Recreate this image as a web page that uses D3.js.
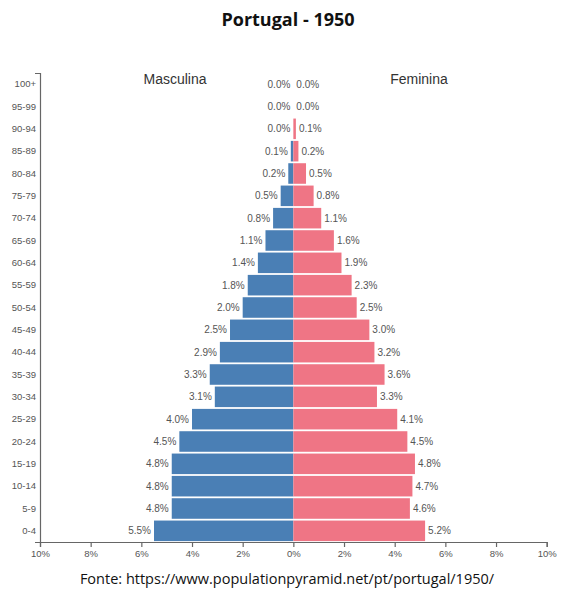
<!DOCTYPE html>
<html><head><meta charset="utf-8">
<script src="https://cdn.jsdelivr.net/npm/d3@7"></script>
<style>body{margin:0;background:#fff}svg{display:block}</style>
</head><body>
<svg id="c" width="564" height="589"></svg>
<script>
const ageGroups = ["0-4","5-9","10-14","15-19","20-24","25-29","30-34","35-39","40-44","45-49","50-54","55-59","60-64","65-69","70-74","75-79","80-84","85-89","90-94","95-99","100+"];
const male   = [5.5,4.8,4.8,4.8,4.5,4.0,3.1,3.3,2.9,2.5,2.0,1.8,1.4,1.1,0.8,0.5,0.2,0.1,0.0,0.0,0.0];
const female = [5.2,4.6,4.7,4.8,4.5,4.1,3.3,3.6,3.2,3.0,2.5,2.3,1.9,1.6,1.1,0.8,0.5,0.2,0.1,0.0,0.0];
const xTicks = [-10,-8,-6,-4,-2,0,2,4,6,8,10];
const title = "Portugal - 1950";
const source = "Fonte: https://www.populationpyramid.net/pt/portugal/1950/";

const svg = d3.select("#c");
const x = d3.scaleLinear().domain([-10,10]).range([40,546.7]);
const y = d3.scaleBand().domain(ageGroups).range([542,73]).paddingInner(0.08).paddingOuter(0.04);
const blue = "#4a7fb5", pink = "#ef7585", txt = "#555";

svg.append("text").attr("x",288).attr("y",26).attr("text-anchor","middle")
  .attr("font-family","Open Sans, sans-serif").attr("font-weight","bold").attr("font-size",18).attr("fill","#111").text(title);

const idx = d3.range(ageGroups.length);
svg.append("g").selectAll("rect").data(idx).join("rect")
  .attr("x", i => x(-male[i])).attr("width", i => x(0)-x(-male[i]))
  .attr("y", i => y(ageGroups[i])).attr("height", y.bandwidth()).attr("fill", blue);
svg.append("g").selectAll("rect").data(idx).join("rect")
  .attr("x", x(0)).attr("width", i => x(female[i])-x(0))
  .attr("y", i => y(ageGroups[i])).attr("height", y.bandwidth()).attr("fill", pink);

svg.append("g").selectAll("text").data(idx).join("text")
  .attr("x", i => x(-male[i]) - 3).attr("y", i => y(ageGroups[i]) + y.bandwidth()/2 + 3.5)
  .attr("text-anchor","end").attr("font-family","Arial, Liberation Sans, sans-serif").attr("font-size",10).attr("fill",txt)
  .text(i => male[i].toFixed(1)+"%");
svg.append("g").selectAll("text").data(idx).join("text")
  .attr("x", i => x(female[i]) + 3).attr("y", i => y(ageGroups[i]) + y.bandwidth()/2 + 3.5)
  .attr("text-anchor","start").attr("font-family","Arial, Liberation Sans, sans-serif").attr("font-size",10).attr("fill",txt)
  .text(i => female[i].toFixed(1)+"%");

const xa = svg.append("g").attr("transform","translate(0,542)")
  .call(d3.axisBottom(x).tickValues(xTicks).tickSize(5).tickFormat(d => Math.abs(d)+"%"));
const ya = svg.append("g").attr("transform","translate(40,0)")
  .call(d3.axisLeft(y).tickSize(0).tickSizeOuter(5).tickPadding(4));
[xa,ya].forEach(g => {
  g.selectAll("path,line").attr("stroke","#666").attr("stroke-width",1.2);
  g.selectAll("text").attr("font-family","Arial, Liberation Sans, sans-serif").attr("font-size",9.5).attr("fill",txt);
});

svg.append("text").attr("x",175).attr("y",84).attr("text-anchor","middle")
  .attr("font-family","Arial, Liberation Sans, sans-serif").attr("font-size",14).attr("fill","#333").text("Masculina");
svg.append("text").attr("x",419).attr("y",84).attr("text-anchor","middle")
  .attr("font-family","Arial, Liberation Sans, sans-serif").attr("font-size",14).attr("fill","#333").text("Feminina");

svg.append("text").attr("x",287).attr("y",584).attr("text-anchor","middle")
  .attr("font-family","Open Sans, sans-serif").attr("font-size",14.5).attr("fill","#111").text(source);
</script>
</body></html>
